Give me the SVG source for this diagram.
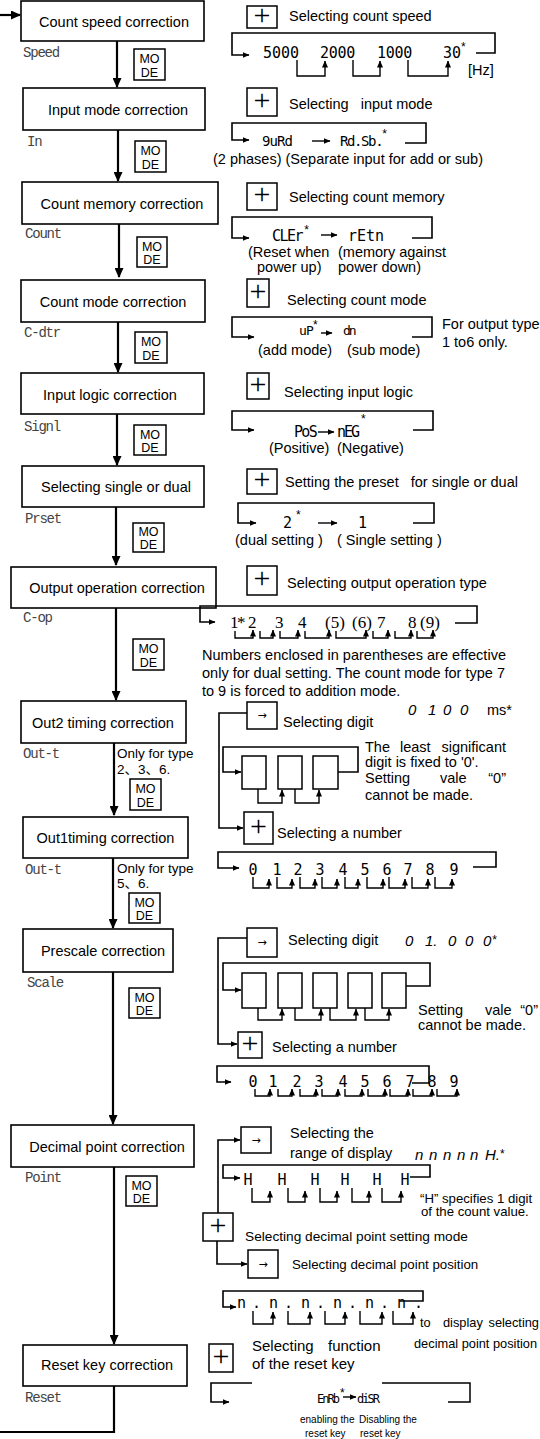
<svg xmlns="http://www.w3.org/2000/svg" width="540" height="1439" viewBox="0 0 540 1439">
<defs>
<style>
.bx{fill:#fff;stroke:#000;stroke-width:1.6}
.kb{fill:#fff;stroke:#000;stroke-width:1.5}
.ln{fill:none;stroke:#000;stroke-width:1.5}
.sub{fill:none;stroke:#000;stroke-width:1.4;marker-end:url(#sa)}
.br{fill:none;stroke:#000;stroke-width:1.6;marker-end:url(#sa)}
.ma{fill:none;stroke:#000;stroke-width:2.2;marker-end:url(#ah)}
.ti{font-family:"Liberation Sans",Arial,sans-serif;font-size:14.5px;fill:#000;text-anchor:middle}
.t{font-family:"Liberation Sans",Arial,sans-serif;font-size:14.5px;fill:#000}
.ts{font-family:"Liberation Sans",Arial,"Noto Sans CJK SC",sans-serif;font-size:13.5px;fill:#000}
.lb{font-family:"Liberation Mono","Courier New",monospace;font-size:14px;letter-spacing:-1.2px;fill:#444}
.md{font-family:"Liberation Sans",Arial,sans-serif;font-size:12.5px;fill:#000;text-anchor:middle}
.pl{font-family:"Liberation Serif","Times New Roman",serif;font-size:30px;fill:#000;text-anchor:middle}
.ar{font-family:"DejaVu Sans",sans-serif;font-size:11px;fill:#000;text-anchor:middle}
.sg{font-family:"DejaVu Sans Mono",monospace;font-size:15px;fill:#000}
.sx{font-family:"Liberation Sans",Arial,sans-serif;font-size:12px;font-style:normal;letter-spacing:0}
.sr{font-family:"Liberation Serif","Times New Roman",serif;font-size:17px;fill:#000}
.it{font-family:"Liberation Sans",Arial,sans-serif;font-size:15px;font-style:italic;fill:#000}
</style>
<marker id="ah" viewBox="0 0 10 9" refX="9" refY="4.5" markerWidth="10" markerHeight="9" markerUnits="userSpaceOnUse" orient="auto"><path d="M0,0L10,4.5L0,9z"/></marker>
<marker id="sa" viewBox="0 0 7 6" refX="6.5" refY="3" markerWidth="7" markerHeight="6" markerUnits="userSpaceOnUse" orient="auto"><path d="M0,0L7,3L0,6z"/></marker>
</defs>
<rect width="540" height="1439" fill="#fff"/>

<g id="connectors">
<path class="ma" d="M0,15H20"/>
<path class="ma" d="M117,41V87"/>
<path class="ma" d="M118,130V181"/>
<path class="ma" d="M119,224V277"/>
<path class="ma" d="M118,322V372"/>
<path class="ma" d="M117,414V465"/>
<path class="ma" d="M116,507V565"/>
<path class="ma" d="M116,608V700"/>
<path class="ma" d="M114,743V815"/>
<path class="ma" d="M113,858V928"/>
<path class="ma" d="M113,972V1124"/>
<path class="ma" d="M114,1167V1344"/>
<path fill="none" stroke="#000" stroke-width="2.2" d="M114,1386V1432H0"/>
</g>

<g id="node-speed"><rect class="bx" x="21" y="1" width="183" height="40"/><text class="ti" x="114" y="27">Count speed correction</text><text class="lb" x="23" y="57">Speed</text></g>
<g id="node-input-mode"><rect class="bx" x="23" y="88" width="182" height="42"/><text class="ti" x="118" y="115">Input mode correction</text><text class="lb" x="27" y="146">In</text></g>
<g id="node-count-memory"><rect class="bx" x="22" y="182" width="196" height="42"/><text class="ti" x="122" y="209">Count memory correction</text><text class="lb" x="25" y="238">Count</text></g>
<g id="node-count-mode"><rect class="bx" x="21" y="280" width="184" height="42"/><text class="ti" x="113" y="307">Count mode correction</text><text class="lb" x="24" y="337">C-dtr</text></g>
<g id="node-input-logic"><rect class="bx" x="21" y="373" width="183" height="41"/><text class="ti" x="110" y="400">Input logic correction</text><text class="lb" x="24" y="431">Signl</text></g>
<g id="node-single-dual"><rect class="bx" x="22" y="466" width="182" height="41"/><text class="ti" x="116" y="492">Selecting single or dual</text><text class="lb" x="25" y="523">Prset</text></g>
<g id="node-output-op"><rect class="bx" x="11" y="567" width="205" height="41"/><text class="ti" x="117" y="593">Output operation correction</text><text class="lb" x="23" y="622">C-op</text></g>
<g id="node-out2"><rect class="bx" x="21" y="701" width="165" height="42"/><text class="ti" x="103" y="728">Out2 timing correction</text><text class="lb" x="23" y="758">Out-t</text><text class="ts" x="117" y="758">Only for type<tspan x="117" dy="16">2、3、6.</tspan></text></g>
<g id="node-out1"><rect class="bx" x="23" y="817" width="165" height="41"/><text class="ti" x="105.5" y="843">Out1timing correction</text><text class="lb" x="25" y="874">Out-t</text><text class="ts" x="117" y="873">Only for type<tspan x="117" dy="15">5、6.</tspan></text></g>
<g id="node-prescale"><rect class="bx" x="23" y="929" width="150" height="43"/><text class="ti" x="103" y="956">Prescale correction</text><text class="lb" x="27" y="987">Scale</text></g>
<g id="node-decimal"><rect class="bx" x="11" y="1125" width="183" height="42"/><text class="ti" x="107" y="1152">Decimal point correction</text><text class="lb" x="25" y="1182">Point</text></g>
<g id="node-reset"><rect class="bx" x="23" y="1345" width="164" height="41"/><text class="ti" x="107" y="1370">Reset key correction</text><text class="lb" x="25" y="1402">Reset</text></g>

<g id="mode-keys">
<rect class="kb" x="134" y="49" width="31" height="31"/><text class="md" x="149.5" y="63">MO<tspan x="149.5" dy="13.5">DE</tspan></text>
<rect class="kb" x="135" y="141" width="31" height="31"/><text class="md" x="150.5" y="155">MO<tspan x="150.5" dy="13.5">DE</tspan></text>
<rect class="kb" x="137" y="237" width="30" height="30"/><text class="md" x="152" y="250.5">MO<tspan x="152" dy="13.5">DE</tspan></text>
<rect class="kb" x="135" y="332" width="32" height="31"/><text class="md" x="151" y="346">MO<tspan x="151" dy="13.5">DE</tspan></text>
<rect class="kb" x="134" y="425" width="32" height="30"/><text class="md" x="150" y="438.5">MO<tspan x="150" dy="13.5">DE</tspan></text>
<rect class="kb" x="133" y="523" width="31" height="29"/><text class="md" x="148.5" y="536">MO<tspan x="148.5" dy="13">DE</tspan></text>
<rect class="kb" x="133" y="639" width="31" height="31"/><text class="md" x="148.5" y="653">MO<tspan x="148.5" dy="13.5">DE</tspan></text>
<rect class="kb" x="130" y="779" width="31" height="31"/><text class="md" x="145.5" y="793">MO<tspan x="145.5" dy="13.5">DE</tspan></text>
<rect class="kb" x="129" y="893" width="31" height="30"/><text class="md" x="144.5" y="906.5">MO<tspan x="144.5" dy="13.5">DE</tspan></text>
<rect class="kb" x="129" y="988" width="31" height="30"/><text class="md" x="144.5" y="1001.5">MO<tspan x="144.5" dy="13.5">DE</tspan></text>
<rect class="kb" x="126" y="1176" width="31" height="30"/><text class="md" x="141.5" y="1189.5">MO<tspan x="141.5" dy="13.5">DE</tspan></text>
</g>

<g id="panel-speed">
<rect class="kb" x="247" y="6" width="30" height="22"/><text class="pl" x="262" y="25">+</text>
<text class="t" x="289" y="21">Selecting count speed</text>
<path class="br" d="M476,53H495V33H232V55H249"/>
<text class="sg" x="263" y="58">5000</text>
<text class="sg" x="320" y="58" letter-spacing="-0.3">2000</text>
<text class="sg" x="377" y="58" letter-spacing="-0.3">1000</text>
<text class="sg" x="443" y="58">30<tspan class="sx" dy="-7">*</tspan></text>
<path class="sub" d="M297,60V76H325V61"/>
<path class="sub" d="M353,60V76H380V61"/>
<path class="sub" d="M408,60V76H448V61"/>
<text class="t" x="468" y="75">[Hz]</text>
</g>

<g id="panel-input-mode">
<rect class="kb" x="247" y="88" width="30" height="28"/><text class="pl" x="262" y="110">+</text>
<text class="t" x="289" y="109">Selecting&#160;&#160; input mode</text>
<path class="br" d="M405,143H426V123H232V140H249"/>
<text class="sg" x="262" y="146" style="font-size:14px" letter-spacing="-0.9">9uRd</text>
<path class="sub" d="M312,141H330"/>
<text class="sg" x="340" y="146" style="font-size:14px" letter-spacing="-1.4">Rd.Sb.<tspan class="sx" dy="-8">*</tspan></text>
<text class="t" x="213" y="163.5">(2 phases) (Separate input for add or sub)</text>
</g>

<g id="panel-count-memory">
<rect class="kb" x="247" y="183" width="30" height="27"/><text class="pl" x="262" y="204">+</text>
<text class="t" x="289" y="202">Selecting count memory</text>
<path class="br" d="M412,238H432V217H232V238H249"/>
<text class="sg" x="272" y="241" letter-spacing="-1.5">CLEr<tspan class="sx" dx="2" dy="-7">*</tspan></text>
<path class="sub" d="M321,235H337"/>
<text class="sg" x="348" y="241">rEtn</text>
<text class="t" x="248" y="257">(Reset when<tspan x="257" dy="15">power up)</tspan></text>
<text class="t" x="338" y="257">(memory against<tspan x="338" dy="15">power down)</tspan></text>
</g>

<g id="panel-count-mode">
<rect class="kb" x="247" y="279" width="22" height="28"/><text class="pl" x="258" y="301">+</text>
<text class="t" x="287" y="305">Selecting count mode</text>
<path class="br" d="M412,337H432V317H232V337H254"/>
<text class="sg" x="299" y="335" style="font-size:13px" letter-spacing="-0.8">uP<tspan class="sx" dy="-6">*</tspan></text>
<path class="sub" d="M321,333H332"/>
<text class="sg" x="343" y="335" style="font-size:13px" letter-spacing="-2">dn</text>
<text class="t" x="258" y="355">(add mode)</text>
<text class="t" x="347" y="355">(sub mode)</text>
<text class="t" x="442" y="329">For output type<tspan x="442" dy="18">1 to6 only.</tspan></text>
</g>

<g id="panel-input-logic">
<rect class="kb" x="247" y="373" width="22" height="26"/><text class="pl" x="258" y="394">+</text>
<text class="t" x="284" y="397">Selecting input logic</text>
<path class="br" d="M413,430H433V411H232V430H254"/>
<text class="sg" x="294" y="437" letter-spacing="-1.7">PoS</text>
<path class="sub" d="M318,432H334"/>
<text class="sg" x="337" y="437" letter-spacing="-2">nEG<tspan class="sx" dx="3" dy="-14">*</tspan></text>
<text class="t" x="269" y="453">(Positive)</text>
<text class="t" x="337" y="453">(Negative)</text>
</g>

<g id="panel-single-dual">
<rect class="kb" x="247" y="469" width="30" height="25"/><text class="pl" x="262" y="489">+</text>
<text class="t" x="285" y="487">Setting the preset&#160;&#160; for single or dual</text>
<path class="br" d="M413,523H434V503H238V523H256"/>
<text class="sg" x="283" y="528">2<tspan class="sx" dx="4" dy="-9">*</tspan></text>
<path class="sub" d="M318,523H337"/>
<text class="sg" x="358" y="528">1</text>
<text class="t" x="235" y="545">(dual setting )</text>
<text class="t" x="337" y="545">( Single setting )</text>
</g>

<g id="panel-output-op">
<rect class="kb" x="247" y="566" width="30" height="29"/><text class="pl" x="262" y="588">+</text>
<text class="t" x="287" y="588">Selecting output operation type</text>
<path class="br" d="M455,623H477V606H200V622H215"/>
<text class="sr" y="628"><tspan x="230">1</tspan><tspan x="237">*</tspan><tspan x="248">2</tspan><tspan x="275">3</tspan><tspan x="298">4</tspan><tspan x="325">(5)</tspan><tspan x="352">(6)</tspan><tspan x="377">7</tspan><tspan x="408">8</tspan><tspan x="420">(9)</tspan></text>
<path class="sub" d="M235,631V638H253V630"/>
<path class="sub" d="M260,631V638H273V630"/>
<path class="sub" d="M280,631V638H298V630"/>
<path class="sub" d="M305,631V638H329V630"/>
<path class="sub" d="M336,631V638H366V630"/>
<path class="sub" d="M373,631V638H388V630"/>
<path class="sub" d="M395,631V638H411V630"/>
<path class="sub" d="M417,631V638H433V630"/>
<text class="t" x="202" y="660" textLength="304" lengthAdjust="spacing">Numbers enclosed in parentheses are effective</text>
<text class="t" x="202" y="678" textLength="303" lengthAdjust="spacing">only for dual setting. The count mode for type 7</text>
<text class="t" x="202" y="696">to 9 is forced to addition mode.</text>
</g>

<g id="panel-out-timing">
<path class="br" d="M247,713H219V828H243"/>
<rect class="kb" x="247" y="702" width="30" height="27"/><text class="ar" x="262" y="719">→</text>
<text class="t" x="283" y="727">Selecting digit</text>
<text class="it" y="715"><tspan x="408">0</tspan><tspan x="428">1</tspan><tspan x="443">0</tspan><tspan x="460">0</tspan></text>
<text class="t" x="487" y="715">ms*</text>
<path class="br" d="M338,772H358V747H223V772H241"/>
<rect class="kb" x="242" y="756" width="24" height="33"/>
<rect class="kb" x="278" y="756" width="24" height="33"/>
<rect class="kb" x="313" y="756" width="25" height="33"/>
<path class="sub" d="M258,789V803H282V790"/>
<path class="sub" d="M295,789V803H319V790"/>
<text class="t" y="752"><tspan x="365">The</tspan><tspan x="400">least</tspan><tspan x="506" text-anchor="end">significant</tspan><tspan x="365" dy="15">digit is fixed to '0'.</tspan><tspan x="365" dy="16">Setting</tspan><tspan x="440">vale</tspan><tspan x="506" text-anchor="end">“0”</tspan><tspan x="365" dy="17">cannot be made.</tspan></text>
<rect class="kb" x="244" y="812" width="29" height="32"/><text class="pl" x="258.5" y="836">+</text>
<text class="t" x="277" y="838">Selecting a number</text>
<path class="br" d="M473,867H496V852H218V868H239"/>
<text class="sg" y="875" x="248.5 272.5 293.5 315.5 338.5 360.5 382.5 403.5 425.5 449.5">0123456789</text>
<path class="sub" d="M253,877V888H269V879"/>
<path class="sub" d="M277,877V888H292V879"/>
<path class="sub" d="M300,877V888H315V879"/>
<path class="sub" d="M322,877V888H337V879"/>
<path class="sub" d="M345,877V888H358V879"/>
<path class="sub" d="M367,877V888H383V879"/>
<path class="sub" d="M389,877V888H405V879"/>
<path class="sub" d="M412,877V888H428V879"/>
<path class="sub" d="M435,877V888H452V879"/>
</g>

<g id="panel-prescale">
<path class="br" d="M247,938H218V1044H237"/>
<rect class="kb" x="247" y="928" width="30" height="29"/><text class="ar" x="262" y="946">→</text>
<text class="t" x="288" y="945">Selecting digit</text>
<text class="it" y="946"><tspan x="405">0</tspan><tspan x="425">1.</tspan><tspan x="448">0</tspan><tspan x="465">0</tspan><tspan x="483">0</tspan><tspan class="sx" dx="1" dy="-2">*</tspan></text>
<path class="br" d="M406,986H430V963H223V990H241"/>
<rect class="kb" x="242" y="973" width="24" height="35"/>
<rect class="kb" x="278" y="973" width="24" height="35"/>
<rect class="kb" x="313" y="973" width="24" height="35"/>
<rect class="kb" x="348" y="973" width="24" height="35"/>
<rect class="kb" x="382" y="973" width="24" height="35"/>
<path class="sub" d="M258,1008V1020H282V1009"/>
<path class="sub" d="M295,1008V1020H321V1009"/>
<path class="sub" d="M330,1008V1020H356V1009"/>
<path class="sub" d="M365,1008V1020H389V1009"/>
<text class="t" y="1015"><tspan x="418">Setting</tspan><tspan x="485">vale</tspan><tspan x="538" text-anchor="end">“0”</tspan><tspan x="418" dy="15">cannot be made.</tspan></text>
<rect class="kb" x="238" y="1032" width="24" height="26"/><text class="pl" x="250" y="1053">+</text>
<text class="t" x="272" y="1052">Selecting a number</text>
<path class="br" d="M412,1083H429V1066H217V1082H231"/>
<text class="sg" y="1087" x="248.5 268.5 292.5 314.5 338.5 360.5 382.5 405.5 427.5 449.5">0123456789</text>
<path class="sub" d="M255,1089V1096H270V1089"/>
<path class="sub" d="M278,1089V1096H292V1089"/>
<path class="sub" d="M300,1089V1096H316V1089"/>
<path class="sub" d="M322,1089V1096H338V1089"/>
<path class="sub" d="M345,1089V1096H362V1089"/>
<path class="sub" d="M368,1089V1096H385V1089"/>
<path class="sub" d="M390,1089V1096H408V1089"/>
<path class="sub" d="M413,1089V1096H432V1089"/>
<path class="sub" d="M437,1089V1096H457V1089"/>
</g>

<g id="panel-decimal">
<path class="br" d="M218,1213V1140H240"/>
<rect class="kb" x="241" y="1127" width="30" height="26"/><text class="ar" x="256" y="1144">→</text>
<text class="t" x="290" y="1138">Selecting the<tspan x="290" dy="20">range of display</tspan></text>
<text class="it" y="1160"><tspan x="415">n</tspan><tspan x="429">n</tspan><tspan x="443">n</tspan><tspan x="457">n</tspan><tspan x="470">n</tspan><tspan x="485">H.</tspan><tspan class="sx" dy="-2">*</tspan></text>
<path class="br" d="M410,1177H430V1165H223V1178H240"/>
<text class="sg" y="1185" x="243.5 277.5 310.5 340.5 372.5 400.5">HHHHHH</text>
<path class="sub" d="M252,1188V1202H270V1191"/>
<path class="sub" d="M288,1188V1202H305V1191"/>
<path class="sub" d="M320,1188V1202H337V1191"/>
<path class="sub" d="M352,1188V1202H369V1191"/>
<path class="sub" d="M382,1188V1202H401V1191"/>
<text class="t" x="420" y="1203" style="font-size:13.2px">“H” specifies 1 digit<tspan x="421" dy="13">of the count value.</tspan></text>
<rect class="kb" x="203" y="1213" width="30" height="28"/><text class="pl" x="218" y="1235">+</text>
<text class="t" x="245" y="1241" style="font-size:13.7px">Selecting decimal point setting mode</text>
<path class="br" d="M217,1241V1264H247"/>
<rect class="kb" x="248" y="1250" width="30" height="28"/><text class="ar" x="263" y="1268">→</text>
<text class="t" x="292" y="1269" style="font-size:13.3px">Selecting decimal point position</text>
<path class="br" d="M400,1301H423V1291H223V1307H236"/>
<text class="sg" y="1308" x="237 252 269 284 301 316 333 348 365 380 397 414">n.n.n.n.n.n.</text>
<path class="sub" d="M253,1311V1324H273V1312"/>
<path class="sub" d="M288,1311V1324H310V1312"/>
<path class="sub" d="M325,1311V1324H345V1312"/>
<path class="sub" d="M360,1311V1324H382V1312"/>
<path class="sub" d="M393,1311V1324H413V1312"/>
<text class="t" y="1327" style="font-size:12.8px"><tspan x="420">to</tspan><tspan x="443">display</tspan><tspan x="539" text-anchor="end">selecting</tspan><tspan x="414" dy="21">decimal point position</tspan></text>
</g>

<g id="panel-reset">
<rect class="kb" x="209" y="1344" width="24" height="28"/><text class="pl" x="221" y="1366">+</text>
<text class="t" y="1351" style="font-size:15px"><tspan x="252">Selecting</tspan><tspan x="328">function</tspan><tspan x="252" dy="18">of the reset key</tspan></text>
<path class="br" d="M252,1383H211V1402H229"/>
<path class="ln" d="M382,1383H470V1402H448"/>
<text class="sg" x="317" y="1403" style="font-size:12px" letter-spacing="-2">EnRb<tspan class="sx" dx="2" dy="-6">*</tspan></text>
<path class="sub" d="M343,1397H356"/>
<text class="sg" x="357" y="1403" style="font-size:12px" letter-spacing="-2">diSR</text>
<text class="t" style="font-size:10px" y="1423"><tspan x="300">enabling the</tspan><tspan x="305" dy="14">reset key</tspan></text>
<text class="t" style="font-size:10px" y="1423"><tspan x="359">Disabling the</tspan><tspan x="360" dy="14">reset key</tspan></text>
</g>
</svg>
